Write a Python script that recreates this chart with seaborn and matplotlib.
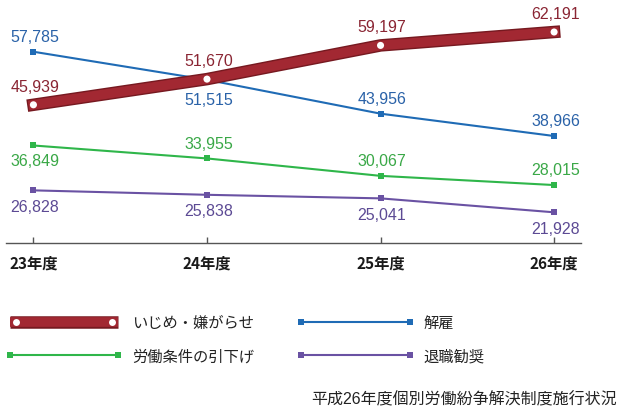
import matplotlib
matplotlib.use("Agg")
import matplotlib.pyplot as plt
import matplotlib.patheffects as pe
from matplotlib.lines import Line2D
from matplotlib.legend_handler import HandlerTuple, HandlerLine2D
import seaborn as sns

# data
years = ["23年度", "24年度", "25年度", "26年度"]
ijime = [45939, 51670, 59197, 62191]      # いじめ・嫌がらせ
kaiko = [57785, 51515, 43956, 38966]      # 解雇
hikisage = [36849, 33955, 30067, 28015]   # 労働条件の引下げ
kanshou = [26828, 25838, 25041, 21928]    # 退職勧奨
source = "平成26年度個別労働紛争解決制度施行状況"

red, red_dark, red_txt = "#a22832", "#761920", "#8a2533"
blue, blue_txt = "#1f6bb5", "#2a62a8"
green, green_txt = "#2fb64a", "#3aa847"
purple, purple_txt = "#6a52a3", "#5c4a94"

sns.set_theme(style="white")
plt.rcParams["font.family"] = ["Liberation Sans", "Noto Sans CJK JP"]

fig = plt.figure(figsize=(6.18, 4.10), dpi=100)
ax = fig.add_axes([6 / 618, 166.5 / 410, 575 / 618, 243.5 / 410])

red_fx = [pe.Stroke(linewidth=9, foreground=red_dark, capstyle="projecting"),
          pe.Normal()]
sns.lineplot(x=years, y=ijime, ax=ax, color=red, lw=7, sort=False,
             solid_capstyle="projecting", path_effects=red_fx, zorder=5)
sns.scatterplot(x=years, y=ijime, ax=ax, color="white", s=26,
                edgecolor="none", zorder=6)

for vals, col in [(kaiko, blue), (hikisage, green), (kanshou, purple)]:
    sns.lineplot(x=years, y=vals, ax=ax, color=col, lw=1.5, sort=False,
                 marker="s", markersize=4, markeredgewidth=0, zorder=4)

# value labels: +1 above the point, -1 below
labels = [
    (ijime, [1, 1, 1, 1], red_txt, 13.5),
    (kaiko, [1, -1.3, 1, 1], blue_txt, 11),
    (hikisage, [-1, 1, 1, 1], green_txt, 11),
    (kanshou, [-1, -1, -1, -1], purple_txt, 11.5),
]
for vals, sides, col, off in labels:
    for i, v in enumerate(vals):
        ax.annotate(f"{v:,}", (i, v), xytext=(1, sides[i] * off),
                    textcoords="offset points", ha="center", va="center",
                    color=col, fontsize=11.5)

ax.set_xlim(-0.158, 3.155)
ax.set_ylim(15185, 69562)
ax.set_yticks([])
ax.set_xlabel("")
ax.set_ylabel("")
sns.despine(ax=ax, left=True)
ax.spines["bottom"].set_color("#555555")
ax.spines["bottom"].set_linewidth(1)
ax.tick_params(axis="x", direction="in", length=4, width=1, color="#555555",
               pad=9, labelsize=11, bottom=True)
for t in ax.get_xticklabels():
    t.set_family(["Noto Sans CJK JP"])
    t.set_fontweight("bold")
    t.set_color("#1a1a1a")

# legend handles
leg_fx = [pe.Stroke(linewidth=9, foreground=red_dark, capstyle="butt"),
          pe.Normal()]
red_dots = Line2D([], [], ls="none", marker="o", mfc="white", mec="none", ms=5)
h_red = (Line2D([], [], color=red, lw=7, solid_capstyle="butt",
                path_effects=leg_fx), red_dots)
h_green = Line2D([], [], color=green, lw=1.5, marker="s", ms=4, mew=0)
h_blue = Line2D([], [], color=blue, lw=1.5, marker="s", ms=4, mew=0)
h_purple = Line2D([], [], color=purple, lw=1.5, marker="s", ms=4, mew=0)
leg = fig.legend([h_red, h_green, h_blue, h_purple],
                 ["いじめ・嫌がらせ", "労働条件の引下げ", "解雇", "退職勧奨"],
                 handler_map={tuple: HandlerTuple(ndivide=1),
                              red_dots: HandlerLine2D(marker_pad=0.5),
                              Line2D: HandlerLine2D(marker_pad=0.1)},
                 ncol=2, numpoints=2, loc="upper left",
                 bbox_to_anchor=(8 / 618, 1 - 317 / 410), frameon=False,
                 handlelength=7.3, handletextpad=0.8, columnspacing=3.0,
                 labelspacing=1.25, fontsize=11, borderpad=0, borderaxespad=0)
for t in leg.get_texts():
    t.set_color("#222222")

fig.text(617 / 618, 1 - 400 / 410, source, ha="right", va="center",
         fontsize=11.5, color="#222222")

fig.savefig("out.png", dpi=100, facecolor="white")
